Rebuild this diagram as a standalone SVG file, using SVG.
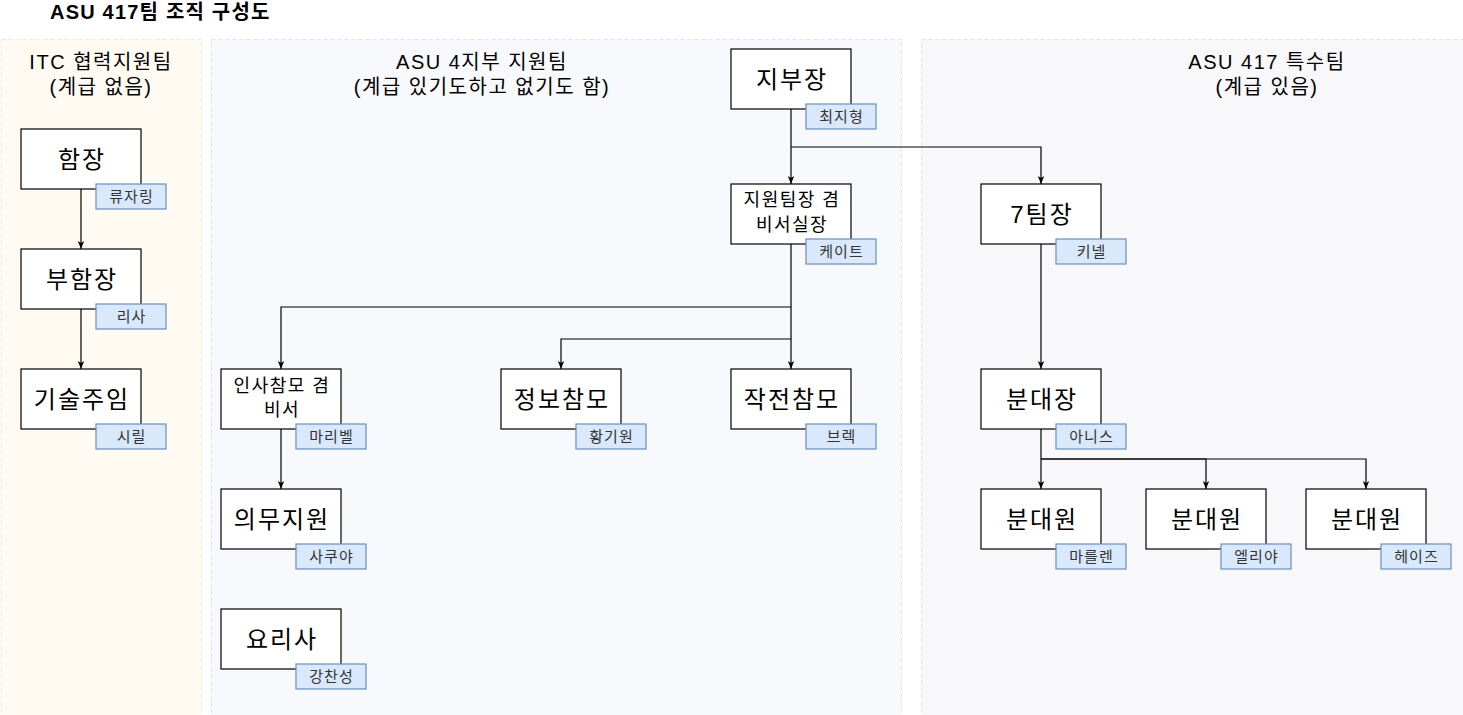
<svg xmlns="http://www.w3.org/2000/svg" width="1463" height="715" viewBox="0 0 1463 715">
<defs>
<marker id="arr" viewBox="0 0 10 10" refX="10" refY="5" markerWidth="8" markerHeight="8" markerUnits="userSpaceOnUse" orient="auto">
<path d="M0,1 L10,5 L0,9 L2.5,5 Z" fill="#000"/>
</marker>
<style>
text{font-family:"Liberation Sans","Noto Sans CJK KR",sans-serif;fill:#000}
.panel{stroke-dasharray:4 3;stroke-width:1}
.pt{font-size:20px;letter-spacing:1.5px;text-anchor:middle;dominant-baseline:central}
.node rect.b{fill:#fff;stroke:#000;stroke-width:1.2}
.nt{font-size:24px;letter-spacing:2px;text-anchor:middle;dominant-baseline:central}
.nt2{font-size:18px;letter-spacing:1.5px;text-anchor:middle;dominant-baseline:central}
.lab rect{fill:#dae8fc;stroke:#6c8ebf;stroke-width:1.2}
.lt{font-size:15px;letter-spacing:1px;text-anchor:middle;dominant-baseline:central;fill:#333}
.conn path{fill:none;stroke:#000;stroke-width:1.2}
</style>
</defs>
<rect width="1463" height="715" fill="#fff"/>
<text x="50" y="12" style="font-size:20px;font-weight:bold;letter-spacing:1.2px;dominant-baseline:central">ASU 417팀 조직 구성도</text>

<g id="panel-itc">
<rect class="panel" x="1.5" y="39.5" width="200" height="690" fill="#fffaf2" stroke="#ece6dc"/>
<text class="pt" x="101" y="62">ITC 협력지원팀</text>
<text class="pt" x="101" y="87">(계급 없음)</text>
</g>
<g id="panel-asu4">
<rect class="panel" x="211.5" y="39.5" width="690" height="690" fill="#f7f9fd" stroke="#dfe4ec"/>
<text class="pt" x="482" y="62">ASU 4지부 지원팀</text>
<text class="pt" x="482" y="87">(계급 있기도하고 없기도 함)</text>
</g>
<g id="panel-417">
<rect class="panel" x="921.5" y="39.5" width="560" height="690" fill="#f8f7fa" stroke="#e3e0e8"/>
<text class="pt" x="1267" y="62">ASU 417 특수팀</text>
<text class="pt" x="1267" y="87">(계급 있음)</text>
</g>

<g class="conn" id="connectors">
<path d="M81,189 V249" marker-end="url(#arr)"/>
<path d="M81,309 V369" marker-end="url(#arr)"/>
<path d="M791,109 V184" marker-end="url(#arr)"/>
<path d="M791,147 H1041 V184" marker-end="url(#arr)"/>
<path d="M791,244 V369" marker-end="url(#arr)"/>
<path d="M791,307 H281 V369" marker-end="url(#arr)"/>
<path d="M791,339 H561 V369" marker-end="url(#arr)"/>
<path d="M281,429 V489" marker-end="url(#arr)"/>
<path d="M1041,244 V369" marker-end="url(#arr)"/>
<path d="M1041,429 V489" marker-end="url(#arr)"/>
<path d="M1041,459 H1206 V489" marker-end="url(#arr)"/>
<path d="M1041,459 H1366 V489" marker-end="url(#arr)"/>
</g>

<g class="node" id="n-hamjang"><rect class="b" x="21" y="129" width="120" height="60"/><text class="nt" x="82" y="159">함장</text>
<g class="lab"><rect x="96" y="184" width="70" height="25"/><text class="lt" x="131.5" y="196.5">류자링</text></g></g>
<g class="node" id="n-buhamjang"><rect class="b" x="21" y="249" width="120" height="60"/><text class="nt" x="82" y="279">부함장</text>
<g class="lab"><rect x="96" y="304" width="70" height="25"/><text class="lt" x="131.5" y="316.5">리사</text></g></g>
<g class="node" id="n-gisul"><rect class="b" x="21" y="369" width="120" height="60"/><text class="nt" x="82" y="399">기술주임</text>
<g class="lab"><rect x="96" y="424" width="70" height="25"/><text class="lt" x="131.5" y="436.5">시릴</text></g></g>

<g class="node" id="n-jibujang"><rect class="b" x="731" y="49" width="120" height="60"/><text class="nt" x="792" y="79">지부장</text>
<g class="lab"><rect x="806" y="104" width="70" height="25"/><text class="lt" x="841.5" y="116.5">최지형</text></g></g>
<g class="node" id="n-jiwon"><rect class="b" x="731" y="184" width="120" height="60"/><text class="nt2" x="792" y="200">지원팀장 겸</text><text class="nt2" x="792" y="225">비서실장</text>
<g class="lab"><rect x="806" y="239" width="70" height="25"/><text class="lt" x="841.5" y="251.5">케이트</text></g></g>
<g class="node" id="n-insa"><rect class="b" x="221" y="369" width="120" height="60"/><text class="nt2" x="282" y="386">인사참모 겸</text><text class="nt2" x="282" y="410">비서</text>
<g class="lab"><rect x="296" y="424" width="70" height="25"/><text class="lt" x="331.5" y="436.5">마리벨</text></g></g>
<g class="node" id="n-jeongbo"><rect class="b" x="501" y="369" width="120" height="60"/><text class="nt" x="562" y="399">정보참모</text>
<g class="lab"><rect x="576" y="424" width="70" height="25"/><text class="lt" x="611.5" y="436.5">황기원</text></g></g>
<g class="node" id="n-jakjeon"><rect class="b" x="731" y="369" width="120" height="60"/><text class="nt" x="792" y="399">작전참모</text>
<g class="lab"><rect x="806" y="424" width="70" height="25"/><text class="lt" x="841.5" y="436.5">브렉</text></g></g>
<g class="node" id="n-uimu"><rect class="b" x="221" y="489" width="120" height="60"/><text class="nt" x="282" y="519">의무지원</text>
<g class="lab"><rect x="296" y="544" width="70" height="25"/><text class="lt" x="331.5" y="556.5">사쿠야</text></g></g>
<g class="node" id="n-yori"><rect class="b" x="221" y="609" width="120" height="60"/><text class="nt" x="282" y="639">요리사</text>
<g class="lab"><rect x="296" y="664" width="70" height="25"/><text class="lt" x="331.5" y="676.5">강찬성</text></g></g>

<g class="node" id="n-7team"><rect class="b" x="981" y="184" width="120" height="60"/><text class="nt" x="1042" y="214">7팀장</text>
<g class="lab"><rect x="1056" y="239" width="70" height="25"/><text class="lt" x="1091.5" y="251.5">키넬</text></g></g>
<g class="node" id="n-bundaejang"><rect class="b" x="981" y="369" width="120" height="60"/><text class="nt" x="1042" y="399">분대장</text>
<g class="lab"><rect x="1056" y="424" width="70" height="25"/><text class="lt" x="1091.5" y="436.5">아니스</text></g></g>
<g class="node" id="n-bd1"><rect class="b" x="981" y="489" width="120" height="60"/><text class="nt" x="1042" y="519">분대원</text>
<g class="lab"><rect x="1056" y="544" width="70" height="25"/><text class="lt" x="1091.5" y="556.5">마를렌</text></g></g>
<g class="node" id="n-bd2"><rect class="b" x="1146" y="489" width="120" height="60"/><text class="nt" x="1207" y="519">분대원</text>
<g class="lab"><rect x="1221" y="544" width="70" height="25"/><text class="lt" x="1256.5" y="556.5">엘리야</text></g></g>
<g class="node" id="n-bd3"><rect class="b" x="1306" y="489" width="120" height="60"/><text class="nt" x="1367" y="519">분대원</text>
<g class="lab"><rect x="1381" y="544" width="70" height="25"/><text class="lt" x="1416.5" y="556.5">헤이즈</text></g></g>
</svg>
